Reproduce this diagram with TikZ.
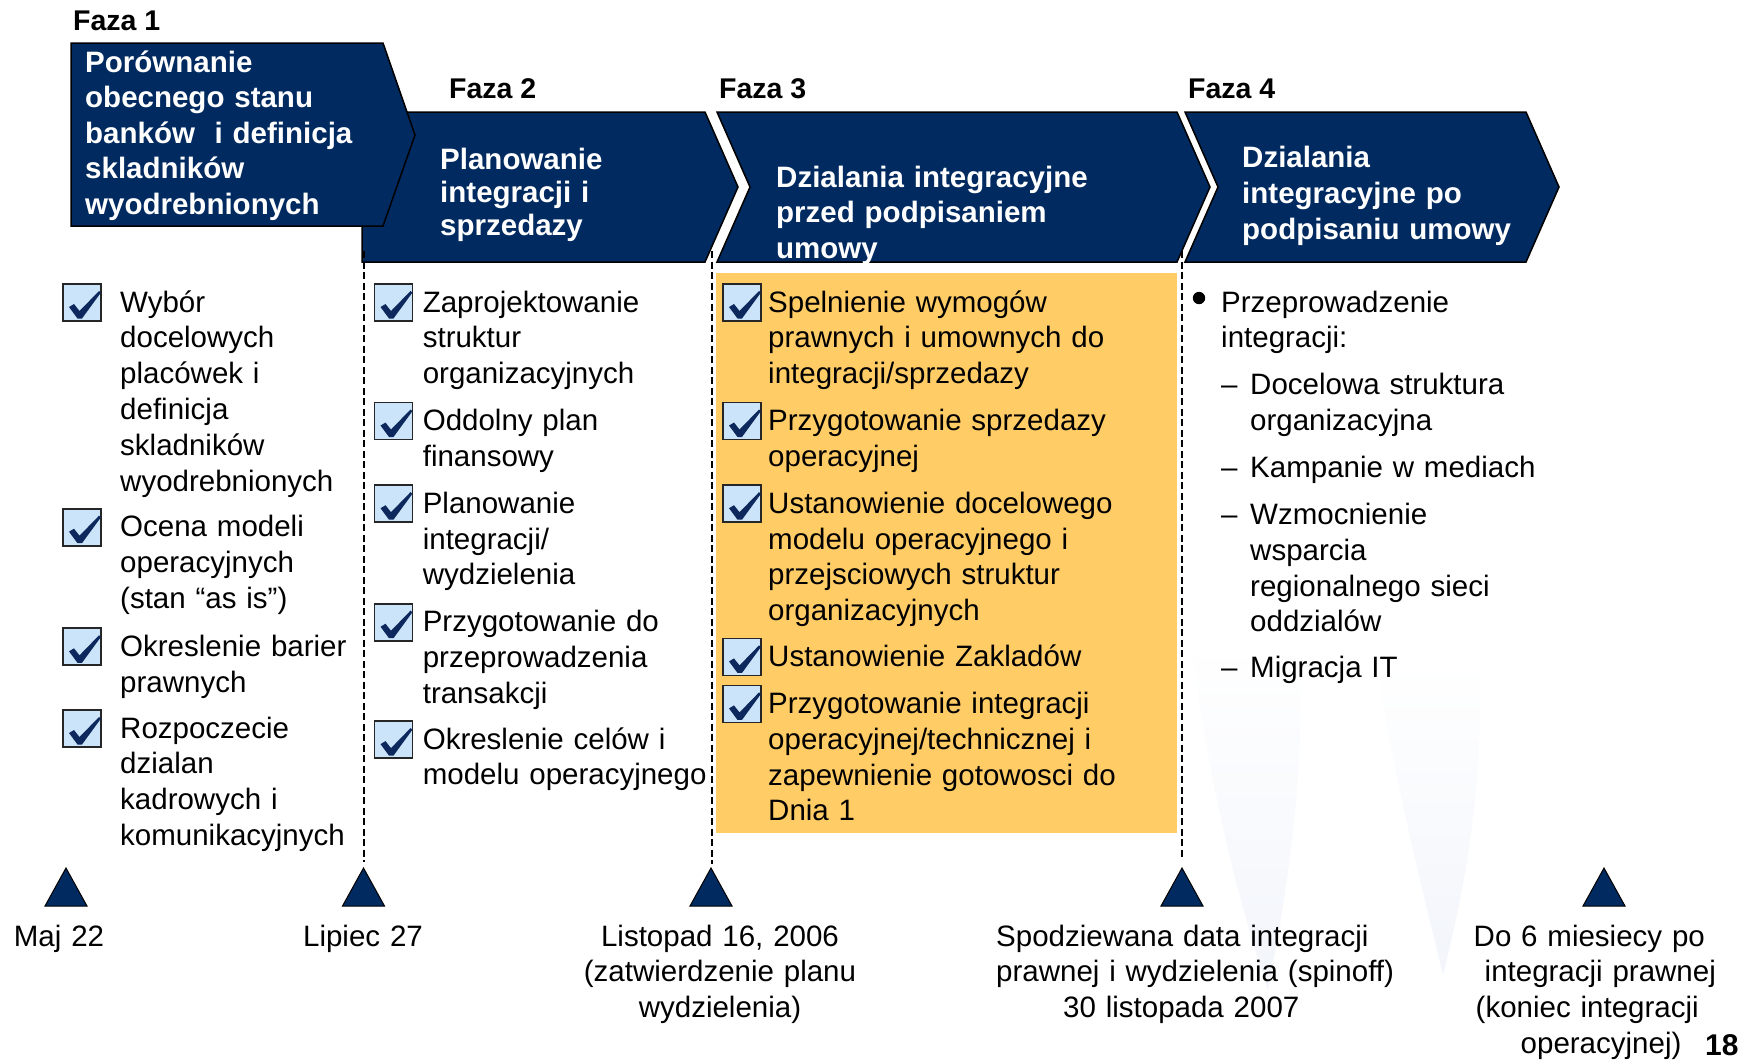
\documentclass[tikz,border=0pt]{standalone}
\usepackage{fontspec}
\setmainfont{Liberation Sans}
\definecolor{navy}{RGB}{0,42,96}
\definecolor{checknavy}{RGB}{12,40,92}
\definecolor{boxblue}{RGB}{204,228,250}
\definecolor{orangebox}{RGB}{255,204,102}
\definecolor{wm}{RGB}{242,245,251}
\tikzset{
  phase/.style={fill=navy, draw=black, line width=1.5pt, line join=miter},
  phtext/.style={text=white, font=\bfseries\fontsize{29.5}{35.6}\selectfont, anchor=base west, inner sep=0pt, align=left, text width=440pt},
  fazalbl/.style={font=\bfseries\fontsize{28.5}{33}\selectfont, anchor=base west, inner sep=0pt},
  body/.style={font=\fontsize{29.5}{35.8}\selectfont, anchor=base west, inner sep=0pt, align=left, text width=420pt},
  datelbl/.style={font=\fontsize{29.5}{35.8}\selectfont, anchor=base, inner sep=0pt, align=center, text width=400pt},
  datelblL/.style={font=\fontsize{29.5}{35.8}\selectfont, anchor=base west, inner sep=0pt, align=left, text width=420pt},
  divline/.style={draw=black, line width=2.6pt, dash pattern=on 7pt off 3.5pt},
  milestone/.style={fill=navy, draw=black, line width=1pt, line join=miter},
  watermark/.style={top color=white, bottom color=wm, draw=none},
  chkbox/.pic={
    \filldraw[fill=boxblue, draw=black!85, line width=1.8pt] (0,-28) rectangle (38,9);
    \fill[checknavy] (6,-5) -- (11,-8) -- (16.5,-1) -- (36,-21) -- (38,-19.5) -- (19,6.5) -- (14.5,6.5) -- cycle;
  }
}
\begin{document}
\begin{tikzpicture}[x=1pt,y=-1pt]
\useasboundingbox (0,0) rectangle (1753,1061);
\fill[white] (0,0) rectangle (1753,1061);

% faint background watermark
\shade[watermark] (1190,640) .. controls (1215,820) and (1245,920) .. (1268,990) .. controls (1285,900) and (1305,790) .. (1300,640) -- cycle;
\shade[watermark] (1375,660) .. controls (1405,830) and (1428,910) .. (1443,975) .. controls (1466,880) and (1482,800) .. (1480,660) -- cycle;

% orange highlight
\fill[orangebox] (716,273) rectangle (1177,833);

% phase chevrons
\path[phase] (362,112) -- (705,112) -- (738,187) -- (705,262) -- (362,262) -- cycle;
\path[phase] (717,112) -- (1177,112) -- (1210,187) -- (1177,262) -- (717,262) -- (750,187) -- cycle;
\path[phase] (1185,112) -- (1526,112) -- (1559,187) -- (1526,262) -- (1185,262) -- (1218,187) -- cycle;
\path[phase] (71,43) -- (383,43) -- (415,135) -- (383,226) -- (71,226) -- cycle;

% phase labels
\node[fazalbl] (f1) at (73,30) {Faza 1};
\node[fazalbl] (f2) at (449,98) {Faza 2};
\node[fazalbl] (f3) at (719,98) {Faza 3};
\node[fazalbl] (f4) at (1188,98) {Faza 4};

% header texts
\node[phtext] (h1) at (85,72) {Porównanie\\obecnego stanu\\banków\ \ i definicja\\skladników\\wyodrebnionych};
\node[phtext, font=\bfseries\fontsize{29.5}{33}\selectfont] (h2) at (440,169) {Planowanie\\integracji i\\sprzedazy};
\begin{scope}
  \clip (717,112) -- (1177,112) -- (1210,187) -- (1177,262) -- (717,262) -- (750,187) -- cycle;
  \node[phtext, font=\bfseries\fontsize{29.5}{35.5}\selectfont] (h3) at (776,187) {Dzialania integracyjne\\przed podpisaniem\\umowy};
\end{scope}
\node[phtext, font=\bfseries\fontsize{29.5}{36}\selectfont] (h4) at (1242,167) {Dzialania\\integracyjne po\\podpisaniu umowy};

% milestones
\coordinate (m1) at (66,868);
\coordinate (m2) at (363.5,868);
\coordinate (m3) at (711,868);
\coordinate (m4) at (1182,868);
\coordinate (m5) at (1604,868);
\foreach \m in {m1,m2,m3,m4,m5}{
  \path[milestone] (\m) -- ++(21,38) -- ++(-42,0) -- cycle;
}

% dashed dividers
\coordinate (d2) at (364,251);
\coordinate (d3) at (712,251);
\coordinate (d4) at (1182,251);
\draw[divline] (d2) -- (364,862);
\draw[divline] (d3) -- (712,864);
\draw[divline] (d4) -- (1182,860);

% column 1
\pic at (63,312) {chkbox};
\node[body] (c1a) at (120,312) {Wybór\\docelowych\\placówek i\\definicja\\skladników\\wyodrebnionych};
\pic at (63,536.7) {chkbox};
\node[body] (c1b) at (120,536.7) {Ocena modeli\\operacyjnych\\(stan “as is”)};
\pic at (63,656.3) {chkbox};
\node[body] (c1c) at (120,656.3) {Okreslenie barier\\prawnych};
\pic at (63,738) {chkbox};
\node[body] (c1d) at (120,738) {Rozpoczecie\\dzialan\\kadrowych i\\komunikacyjnych};

% column 2
\pic at (374.5,312) {chkbox};
\node[body] (c2a) at (422.6,312) {Zaprojektowanie\\struktur\\organizacyjnych};
\pic at (374.5,430.5) {chkbox};
\node[body] (c2b) at (422.6,430.5) {Oddolny plan\\finansowy};
\pic at (374.5,513.2) {chkbox};
\node[body] (c2c) at (422.6,513.2) {Planowanie\\integracji/\\wydzielenia};
\pic at (374.5,631.7) {chkbox};
\node[body] (c2d) at (422.6,631.7) {Przygotowanie do\\przeprowadzenia\\transakcji};
\pic at (374.5,749.1) {chkbox};
\node[body] (c2e) at (422.6,749.1) {Okreslenie celów i\\modelu operacyjnego};

% column 3
\pic at (723,312) {chkbox};
\node[body] (c3a) at (768,312) {Spelnienie wymogów\\prawnych i umownych do\\integracji/sprzedazy};
\pic at (723,430.5) {chkbox};
\node[body] (c3b) at (768,430.5) {Przygotowanie sprzedazy\\operacyjnej};
\pic at (723,513.2) {chkbox};
\node[body] (c3c) at (768,513.2) {Ustanowienie docelowego\\modelu operacyjnego i\\przejsciowych struktur\\organizacyjnych};
\pic at (723,666.4) {chkbox};
\node[body] (c3d) at (768,666.4) {Ustanowienie Zakladów};
\pic at (723,713.4) {chkbox};
\node[body] (c3e) at (768,713.4) {Przygotowanie integracji\\operacyjnej/technicznej i\\zapewnienie gotowosci do\\Dnia 1};

% column 4
\fill (1199,298) circle (6.2);
\node[body] (c4a) at (1221,312) {Przeprowadzenie\\integracji:};
\node[body] (c4d1) at (1221,394.7) {–};
\node[body] (c4b) at (1250,394.7) {Docelowa struktura\\organizacyjna};
\node[body] (c4d2) at (1221,477.5) {–};
\node[body] (c4c) at (1250,477.5) {Kampanie w mediach};
\node[body] (c4d3) at (1221,524.4) {–};
\node[body] (c4d) at (1250,524.4) {Wzmocnienie\\wsparcia\\regionalnego sieci\\oddzialów};
\node[body] (c4d4) at (1221,677.5) {–};
\node[body] (c4e) at (1250,677.5) {Migracja IT};

% dates
\node[datelbl] (t1) at (59,946) {Maj 22};
\node[datelbl] (t2) at (363,946) {Lipiec 27};
\node[datelbl] (t3) at (720,946) {Listopad 16, 2006\\(zatwierdzenie planu\\wydzielenia)};
\node[datelblL] (t4) at (996,946) {Spodziewana data integracji\\prawnej i wydzielenia (spinoff)\\\hspace*{67pt}30 listopada 2007};
\node[datelblL] (t5) at (1473.5,946) {Do 6 miesiecy po\\\hspace*{11pt}integracji prawnej\\\hspace*{2pt}(koniec integracji\\\hspace*{47pt}operacyjnej)};
\node[fazalbl, font=\bfseries\fontsize{30}{34}\selectfont] (pg) at (1705,1055) {18};
\end{tikzpicture}
\end{document}
